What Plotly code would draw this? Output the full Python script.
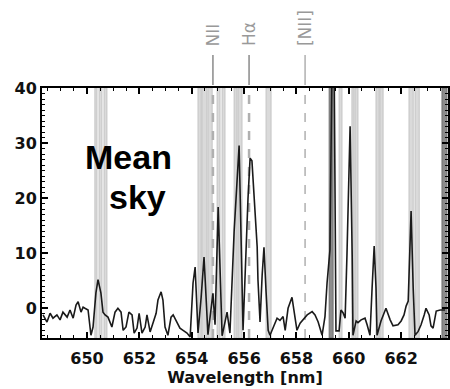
import plotly.graph_objects as go

# ---- data ----
wavelength = [648.32, 648.47, 648.59, 648.70, 648.85, 648.97, 649.08, 649.24, 649.35, 649.47,
              649.58, 649.66, 649.77, 649.85, 649.92, 650.04, 650.15, 650.23, 650.34, 650.42,
              650.53, 650.61, 650.69, 650.80, 650.95, 651.07, 651.18, 651.30, 651.38, 651.49,
              651.60, 651.72, 651.80, 651.91, 651.99, 652.10, 652.22, 652.29, 652.41, 652.52,
              652.64, 652.71, 652.83, 652.90, 652.98, 653.09, 653.21, 653.29, 653.44, 653.55,
              653.67, 653.82, 653.94, 654.05, 654.13, 654.24, 654.36, 654.47, 654.62, 654.81,
              654.89, 655.01, 655.16, 655.35, 655.46, 655.62, 655.81, 655.96, 656.15, 656.23,
              656.30, 656.34, 656.42, 656.50, 656.53, 656.61, 656.69, 656.76, 656.84, 656.92,
              656.99, 657.11, 657.26, 657.37, 657.49, 657.57, 657.68, 657.83, 657.91, 658.02,
              658.14, 658.25, 658.41, 658.60, 658.71, 658.83, 658.98, 659.09, 659.17, 659.28,
              659.36, 659.44, 659.51, 659.63, 659.70, 659.78, 659.86, 659.93, 660.05, 660.13,
              660.16, 660.28, 660.35, 660.47, 660.62, 660.70, 660.81, 660.89, 660.97, 661.04,
              661.08, 661.23, 661.42, 661.58, 661.69, 661.88, 662.00, 662.11, 662.19, 662.27,
              662.38, 662.46, 662.53, 662.65, 662.76, 662.88, 662.95, 663.07, 663.14, 663.22,
              663.34, 663.49, 663.68]
flux = [-1.2, -2.5, -0.9, -1.8, -1.2, -2.1, -0.7, -1.6, -0.3, -1.8,
        0.6, 1.2, -0.7, 0.2, 0.0, -0.3, -4.9, -3.4, 2.8, 5.2,
        2.8, -0.7, -1.2, -1.6, -3.4, -0.7, 0.0, -0.7, -4.0, -3.4,
        -0.7, -1.2, -4.5, -3.6, -0.9, -4.5, -3.4, -1.2, -4.3, -2.5,
        -0.9, 1.5, 3.0, 1.5, -3.4, -4.9, -1.6, -1.2, -2.5, -3.6,
        -4.0, -4.5, -5.2, 4.6, 7.5, -4.5, 2.0, 9.3, -4.8, 2.7,
        -3.0, 18.4, -5.0, -0.7, -4.5, 14.0, 29.6, -4.0, 20.0, 27.3,
        26.8, 23.3, 17.3, 11.2, 5.2, -2.5, 6.0, 11.1, 3.0, -4.0,
        -4.9, -3.4, -1.8, -2.2, -1.5, -4.0, 0.0, 2.0, -0.9, -4.0,
        -2.7, -2.1, -1.2, -0.6, -1.2, -2.5, -4.9, -1.5, 4.6, 10.6,
        45.0, 45.0, -4.1, -4.1, -0.3, -0.8, -1.8, 9.7, 33.1, 9.7,
        -4.9, -2.3, -2.6, -2.1, -1.8, -3.0, -4.9, 3.7, 11.3, 3.7,
        -4.9, -2.3, 0.0, -2.1, -3.2, -3.0, -2.3, -1.2, 0.4, 1.3,
        17.7, 3.7, -4.9, -4.2, -3.0, -1.2, 0.0, -1.2, -3.2, -3.6,
        -0.5, -0.3, -0.3]

# masked sky-line bands (start, end) in nm
light_bands = [(650.30, 650.38), (650.46, 650.57), (650.65, 650.76),
               (654.24, 654.36), (654.39, 654.58), (654.62, 654.78),
               (654.97, 655.08), (655.16, 655.27), (655.62, 655.73),
               (655.77, 655.92), (656.84, 657.03), (659.63, 659.74),
               (660.12, 660.20), (660.24, 660.35), (661.04, 661.16),
               (661.19, 661.31), (662.30, 662.46), (662.53, 662.69)]
dark_bands = [(659.25, 659.40), (663.56, 663.75)]

line_names = ["NII", "Hα", "[NII]"]
line_waves = [654.81, 656.19, 658.33]

x_ticks = [650, 652, 654, 656, 658, 660, 662]
y_ticks = [0, 10, 20, 30, 40]

# ---- figure ----
fig = go.Figure()
fig.add_trace(go.Scatter(x=wavelength, y=flux, mode="lines",
                         line=dict(color="#1a1a1a", width=1.6),
                         hoverinfo="skip", showlegend=False))

shapes = []
for a, b in light_bands:
    shapes.append(dict(type="rect", xref="x", yref="paper", x0=a, x1=b, y0=0, y1=1,
                       fillcolor="#dadada", line=dict(color="#c4c4c4", width=1), layer="below"))
for a, b in dark_bands:
    shapes.append(dict(type="rect", xref="x", yref="paper", x0=a, x1=b, y0=0, y1=1,
                       fillcolor="#8c8c8c", line=dict(color="#707070", width=1), layer="below"))
for i, w in enumerate(line_waves):
    shapes.append(dict(type="line", xref="x", yref="paper", x0=w, x1=w, y0=0, y1=1,
                       line=dict(color="#b0b0b0", width=2.5 if i < 2 else 1.5, dash="dash"),
                       layer="below"))
    shapes.append(dict(type="line", xref="x", yref="paper", x0=w, x1=w, y0=1.012, y1=1.132,
                       line=dict(color="#8a8a8a" if i < 2 else "#b0b0b0", width=1.5)))

annotations = []
for i, (name, w) in enumerate(zip(line_names, line_waves)):
    annotations.append(dict(x=w, y=1.16, xref="x", yref="paper", text=name, textangle=-90,
                            showarrow=False, xanchor="center", yanchor="bottom",
                            font=dict(family="DejaVu Sans", size=17, color="#999999")))
annotations.append(dict(x=651.57, y=0.725, xref="x", yref="paper", text="Mean",
                        showarrow=False, xanchor="center", yanchor="middle",
                        font=dict(family="Liberation Sans", size=34, color="black", weight="bold")))
annotations.append(dict(x=651.91, y=0.565, xref="x", yref="paper", text="sky",
                        showarrow=False, xanchor="center", yanchor="middle",
                        font=dict(family="Liberation Sans", size=34, color="black", weight="bold")))

tickfont = dict(family="DejaVu Sans", size=16, color="#111", weight="bold")
fig.update_layout(
    width=450, height=389,
    margin=dict(l=42, r=2, t=88, b=51),
    paper_bgcolor="white", plot_bgcolor="white",
    shapes=shapes, annotations=annotations,
    xaxis=dict(range=[648.28, 663.79], tickvals=x_ticks, ticks="inside", ticklen=6,
               tickwidth=1.5, tickcolor="black", showline=True, linecolor="black",
               linewidth=2, mirror="allticks", showgrid=False, zeroline=False,
               automargin=False, ticklabelstandoff=5,
               minor=dict(dtick=0.5, tick0=650, ticks="inside", ticklen=3,
                          tickcolor="black", tickwidth=1),
               tickfont=tickfont,
               title=dict(text="Wavelength [nm]", standoff=4,
                          font=dict(family="DejaVu Sans", size=16, color="#111", weight="bold"))),
    yaxis=dict(range=[-5.4, 40.05], tickvals=y_ticks, ticks="inside", ticklen=6,
               tickwidth=1.5, tickcolor="black", showline=True, linecolor="black",
               linewidth=2, mirror="allticks", showgrid=False, zeroline=False,
               automargin=False,
               minor=dict(dtick=1, tick0=0, ticks="inside", ticklen=3,
                          tickcolor="black", tickwidth=1),
               tickfont=tickfont),
)

fig.write_html("out.html", config={"displayModeBar": False},
               post_script="document.body.style.margin='0';")
